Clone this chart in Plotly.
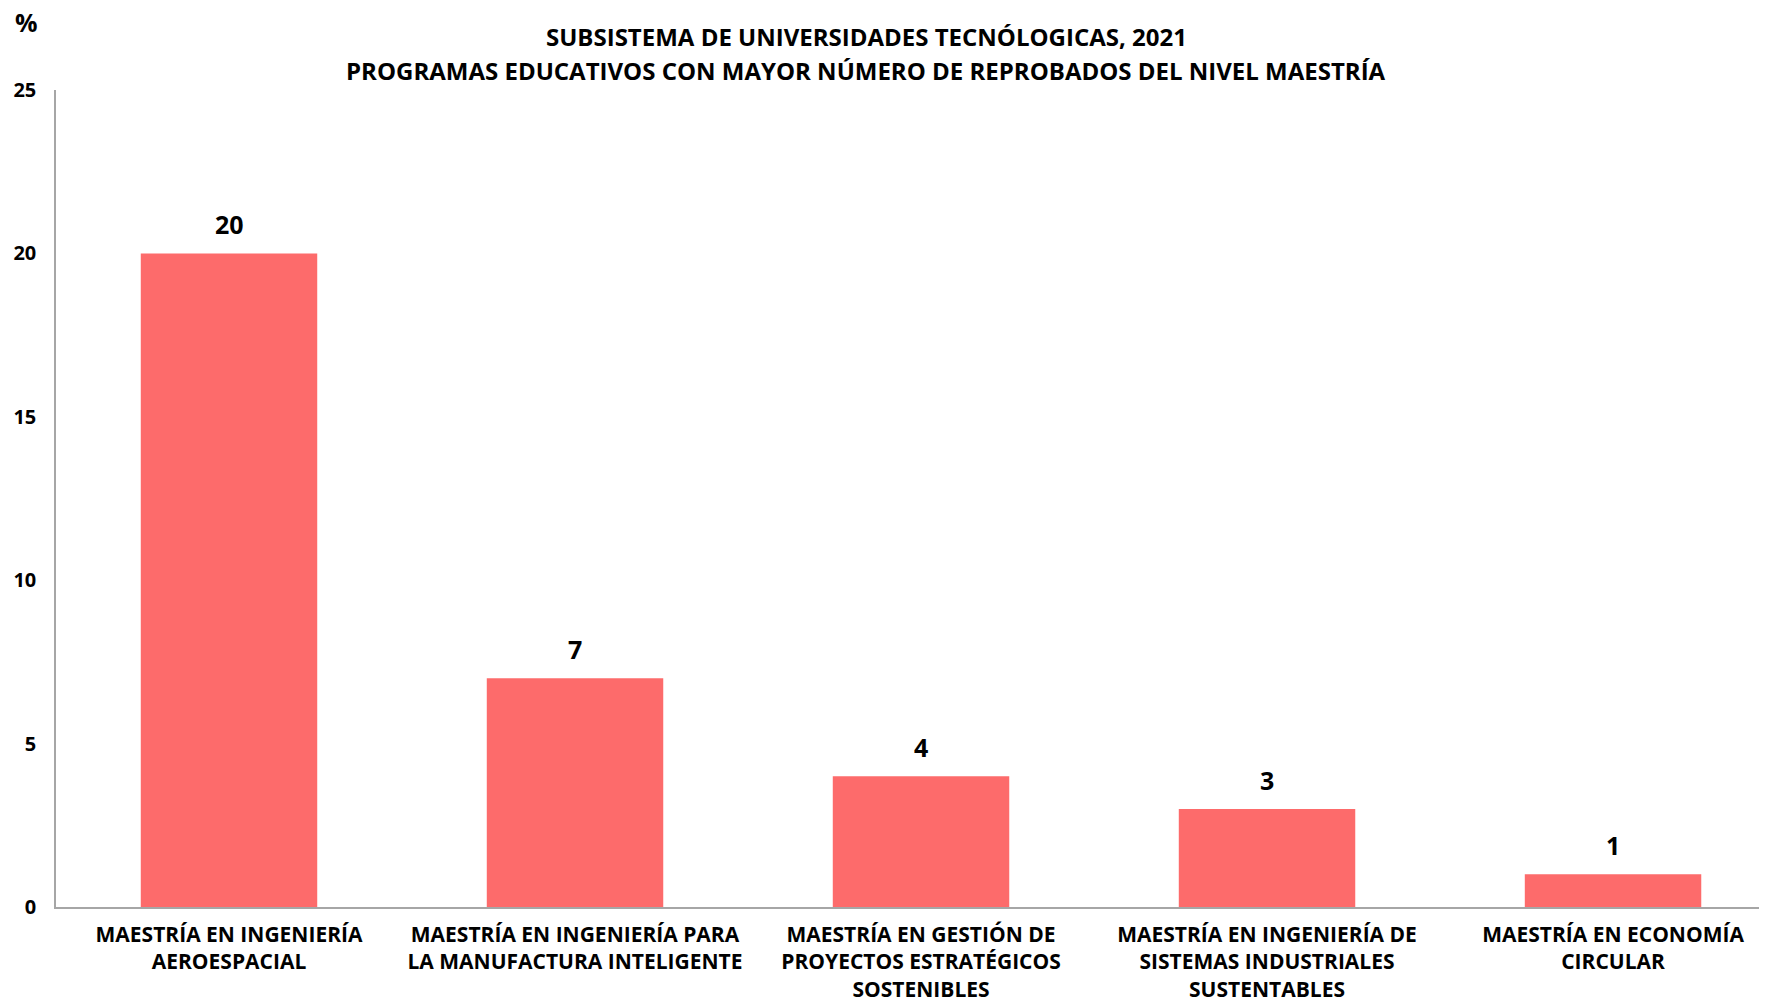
import plotly.graph_objects as go

categories = [
    "MAESTRÍA EN INGENIERÍA<br>AEROESPACIAL",
    "MAESTRÍA EN INGENIERÍA PARA<br>LA MANUFACTURA INTELIGENTE",
    "MAESTRÍA EN GESTIÓN DE<br>PROYECTOS ESTRATÉGICOS<br>SOSTENIBLES",
    "MAESTRÍA EN INGENIERÍA DE<br>SISTEMAS INDUSTRIALES<br>SUSTENTABLES",
    "MAESTRÍA EN ECONOMÍA<br>CIRCULAR",
]
values = [20, 7, 4, 3, 1]
y_ticks = [0, 5, 10, 15, 20, 25]
title_lines = [
    "SUBSISTEMA DE UNIVERSIDADES TECNÓLOGICAS, 2021",
    "PROGRAMAS EDUCATIVOS CON MAYOR NÚMERO DE REPROBADOS DEL NIVEL MAESTRÍA",
]

FONT = "Open Sans, sans-serif"
W, H = 1767, 1003
ML, MR, MT, MB = 48, 8, 82, 104
PW = W - ML - MR

fig = go.Figure()
fig.add_trace(go.Bar(
    x=list(range(len(categories))),
    y=values,
    width=0.51,
    marker=dict(color="#FD6B6B", line=dict(width=0)),
    hoverinfo="y",
))

annotations = [
    dict(x=i, y=v, xref="x", yref="y", text="<b>%d</b>" % v, showarrow=False,
         yanchor="bottom", yshift=10,
         font=dict(family=FONT, size=25, color="black"))
    for i, v in enumerate(values)
]
for line, shift in zip(title_lines, [54, 20]):
    annotations.append(dict(
        text="<b>%s</b>" % line, xref="paper", yref="paper",
        x=(866 - 56) / PW, y=1, yshift=shift,
        xanchor="center", yanchor="middle", showarrow=False,
        font=dict(family=FONT, size=24, color="black")))
annotations.append(dict(
    text="<b>%</b>", xref="paper", yref="paper", x=(13 - 56) / PW,
    y=1, yshift=68, xanchor="left", yanchor="middle", showarrow=False,
    font=dict(family=FONT, size=25, color="black")))

fig.update_layout(
    width=W, height=H,
    margin=dict(l=ML, r=MR, t=MT, b=MB),
    paper_bgcolor="white", plot_bgcolor="white",
    showlegend=False,
    font=dict(family=FONT, color="black"),
    xaxis=dict(
        tickmode="array",
        tickvals=list(range(len(categories))),
        ticktext=["<b>%s</b>" % c for c in categories],
        range=[-0.5, 4.445],
        showline=True, linecolor="#A6A6A6", linewidth=1.5,
        showgrid=False, zeroline=False, ticks="",
        tickfont=dict(family=FONT, size=21, color="black"),
        ticklabelstandoff=8,
        tickangle=0,
        automargin=False,
    ),
    yaxis=dict(
        range=[0, 25],
        tickvals=y_ticks,
        ticktext=["<b>%d</b>" % t for t in y_ticks],
        showline=True, linecolor="#A6A6A6", linewidth=1.5,
        showgrid=False, zeroline=False, ticks="",
        tickfont=dict(family=FONT, size=20, color="black"),
        ticklabelstandoff=14,
        automargin=False,
    ),
    annotations=annotations,
)

fig.write_html("out.html")
